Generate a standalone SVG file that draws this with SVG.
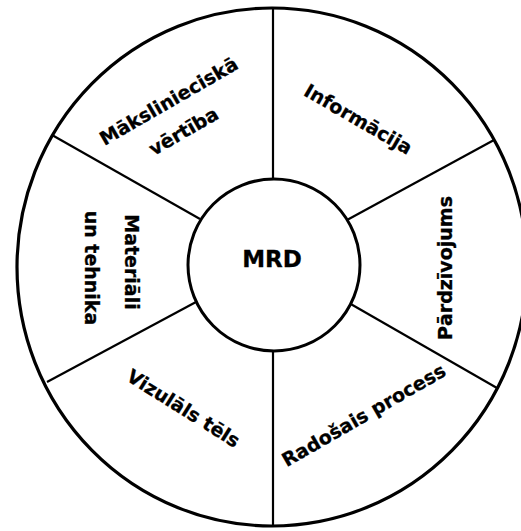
<svg xmlns="http://www.w3.org/2000/svg" width="521" height="531" viewBox="0 0 521 531">
  <style>
    .ring { fill: #fff; stroke: #000; stroke-width: 3.2; }
    .hub { fill: #fff; stroke: #000; stroke-width: 3; }
    .spoke { stroke: #000; stroke-width: 2.2; fill: none; }
    .lbl { font-family: "DejaVu Sans", Verdana, sans-serif; font-weight: bold; font-size: 19px; fill: #000; stroke: #000; stroke-width: 0.3; text-anchor: middle; }
    .core { font-family: "DejaVu Sans", Verdana, sans-serif; font-weight: bold; font-size: 23px; fill: #000; stroke: #000; stroke-width: 0.3; text-anchor: middle; }
  </style>
  <rect width="521" height="531" fill="#fff"/>

  <!-- outer wheel -->
  <g id="wheel">
    <ellipse class="ring" cx="272" cy="267" rx="255" ry="259"/>
  </g>

  <!-- dividing spokes between the sectors -->
  <g id="connectors">
    <line class="spoke" x1="273" y1="8" x2="273" y2="181"/>
    <line class="spoke" x1="273" y1="349" x2="273" y2="527"/>
    <line class="spoke" x1="52" y1="135" x2="200" y2="219"/>
    <line class="spoke" x1="494" y1="140" x2="347" y2="220"/>
    <line class="spoke" x1="47" y1="382" x2="196" y2="302"/>
    <line class="spoke" x1="349" y1="303" x2="497" y2="388"/>
  </g>

  <!-- sectors -->
  <g id="makslinieciska-vertiba">
    <text class="lbl" transform="translate(172,107) rotate(-30)">Mākslinieciskā</text>
    <text class="lbl" transform="translate(187,137) rotate(-30)">vērtība</text>
  </g>
  <g id="informacija">
    <text class="lbl" transform="translate(355,125) rotate(30)">Informācija</text>
  </g>
  <g id="pardzivojums">
    <text class="lbl" transform="translate(452,268) rotate(-90)">Pārdzīvojums</text>
  </g>
  <g id="radosais-process">
    <text class="lbl" transform="translate(367,421) rotate(-30)">Radošais process</text>
  </g>
  <g id="vizulais-tels">
    <text class="lbl" transform="translate(180,414) rotate(32)">Vizulāls tēls</text>
  </g>
  <g id="materiali-un-tehnika">
    <text class="lbl" transform="translate(125,262) rotate(90)">Materiāli</text>
    <text class="lbl" transform="translate(85,268) rotate(90)">un tehnika</text>
  </g>

  <!-- centre -->
  <g id="mrd">
    <circle class="hub" cx="274" cy="265" r="86"/>
    <text class="core" x="272" y="267">MRD</text>
  </g>
</svg>
